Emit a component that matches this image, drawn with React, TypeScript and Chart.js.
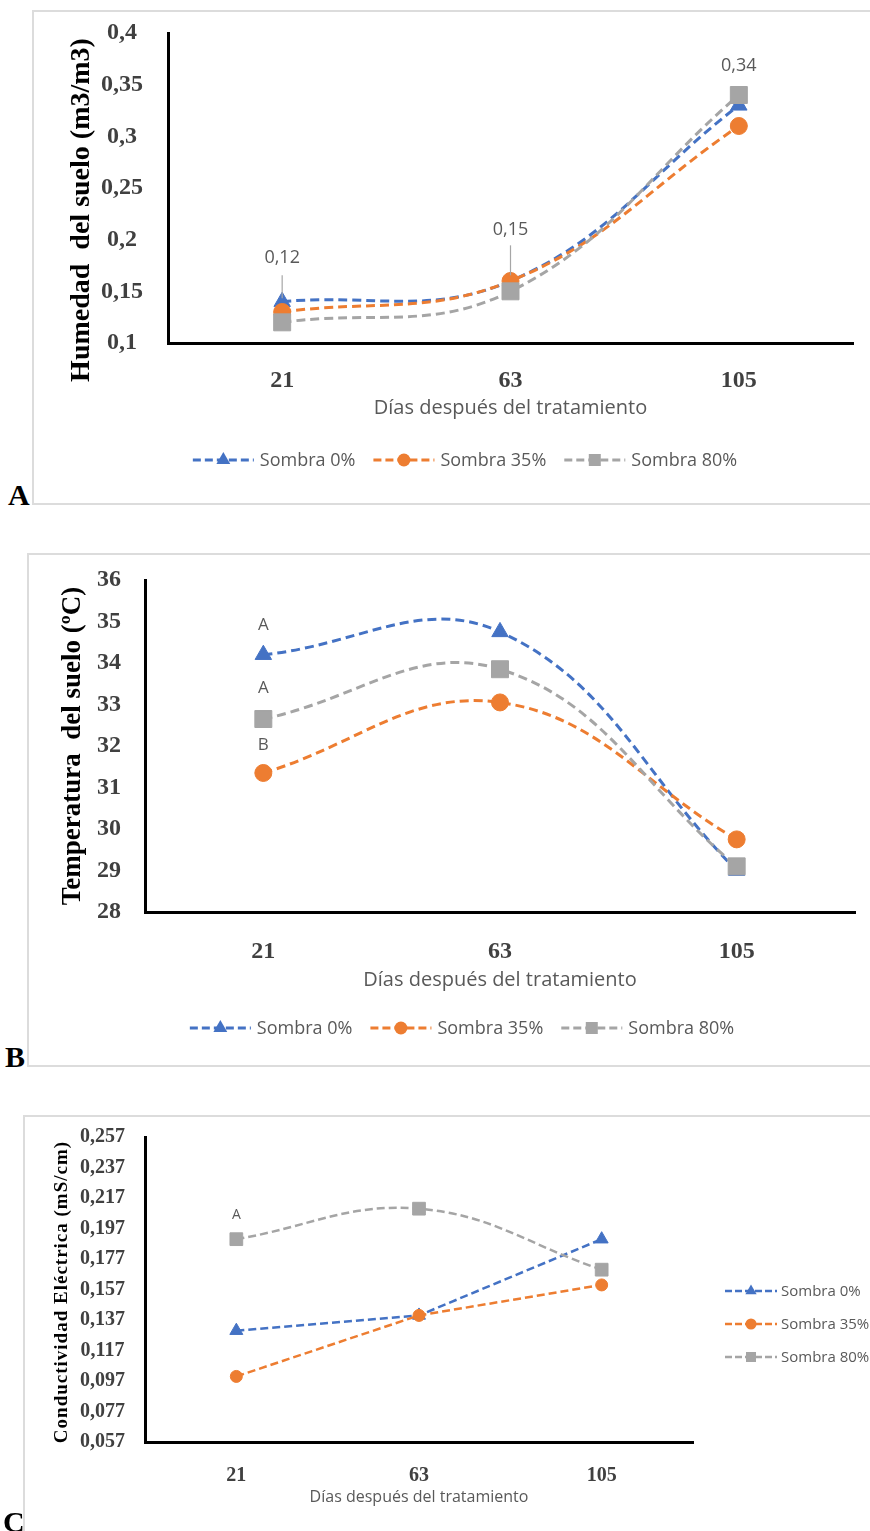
import React, { useEffect, useRef } from "react";
import { Chart, registerables } from "chart.js";

Chart.register(...registerables);

const SERIF = "'Liberation Serif', 'Times New Roman', serif";
const SANS = "'Open Sans', Lato, sans-serif";

// ---------- shared ----------
const days = ["21", "63", "105"];
const seriesNames = ["Sombra 0%", "Sombra 35%", "Sombra 80%"];
const seriesColors = ["#4472C4", "#ED7D31", "#A5A5A5"];
const seriesMarkers = ["triangle", "circle", "rect"];
const xTitleText = "Días después del tratamiento";

// ---------- Panel A: Humedad del suelo ----------
const humedadSombra0 = [0.14, 0.16, 0.33];
const humedadSombra35 = [0.13, 0.16, 0.31];
const humedadSombra80 = [0.12, 0.15, 0.34];
const humedadTicks = [0.1, 0.15, 0.2, 0.25, 0.3, 0.35, 0.4];
const humedadTickLabels = ["0,1", "0,15", "0,2", "0,25", "0,3", "0,35", "0,4"];
const humedadPointLabels80 = ["0,12", "0,15", "0,34"];

// ---------- Panel B: Temperatura del suelo ----------
const tempSombra0 = [34.2, 34.75, 29.0];
const tempSombra35 = [31.35, 33.05, 29.75];
const tempSombra80 = [32.65, 33.85, 29.1];
const tempTicks = [28, 29, 30, 31, 32, 33, 34, 35, 36];
const tempTickLabels = ["28", "29", "30", "31", "32", "33", "34", "35", "36"];
const tempLetters0 = ["A", "", ""];
const tempLetters35 = ["B", "", ""];
const tempLetters80 = ["A", "", ""];

// ---------- Panel C: Conductividad eléctrica ----------
const ceSombra0 = [0.13, 0.14, 0.19];
const ceSombra35 = [0.1, 0.14, 0.16];
const ceSombra80 = [0.19, 0.21, 0.17];
const ceTicks = [0.057, 0.077, 0.097, 0.117, 0.137, 0.157, 0.177, 0.197, 0.217, 0.237, 0.257];
const ceTickLabels = ["0,057", "0,077", "0,097", "0,117", "0,137", "0,157", "0,177", "0,197", "0,217", "0,237", "0,257"];
const ceLetters80 = ["A", "", ""];

function drawMarker(ctx: CanvasRenderingContext2D, style: string, x: number, y: number, r: number, color: string) {
  ctx.fillStyle = color;
  ctx.beginPath();
  if (style === "triangle") {
    ctx.moveTo(x, y - r);
    ctx.lineTo(x + r * 0.866, y + r * 0.5);
    ctx.lineTo(x - r * 0.866, y + r * 0.5);
    ctx.closePath();
  } else if (style === "circle") {
    ctx.arc(x, y, r, 0, Math.PI * 2);
  } else {
    ctx.rect(x - r, y - r, 2 * r, 2 * r);
  }
  ctx.fill();
}

const yTitlePlugin = (t: any) => ({
  id: "yTitle",
  afterDraw(chart: any) {
    const ctx = chart.ctx as CanvasRenderingContext2D;
    ctx.save();
    ctx.font = `bold ${t.size}px ${SERIF}`;
    ctx.fillStyle = "#000";
    (ctx as any).letterSpacing = t.spacing || "0px";
    ctx.translate(t.x, t.y);
    ctx.rotate(-Math.PI / 2);
    ctx.textAlign = "center";
    ctx.textBaseline = "middle";
    ctx.fillText(t.text, 0, 0);
    (ctx as any).letterSpacing = "0px";
    ctx.restore();
  },
});

const legendPlugin = (L: any) => ({
  id: "dashLegend",
  afterDraw(chart: any) {
    const ctx = chart.ctx as CanvasRenderingContext2D;
    const dss = chart.data.datasets;
    ctx.save();
    ctx.font = `${L.size}px ${SANS}`;
    ctx.textBaseline = "middle";
    ctx.textAlign = "left";
    const widths = dss.map((d: any) => ctx.measureText(d.label).width);
    const itemW = widths.map((w: number) => L.lineLen + L.gap + w);
    let x: number;
    let y: number;
    if (L.mode === "row") {
      const total = itemW.reduce((a: number, b: number) => a + b, 0) + L.itemGap * (dss.length - 1);
      x = L.cx - total / 2;
      y = L.y;
    } else {
      x = L.x;
      y = L.y;
    }
    dss.forEach((d: any, i: number) => {
      ctx.strokeStyle = d.borderColor;
      ctx.lineWidth = L.lineWidth;
      ctx.setLineDash(L.dash);
      ctx.beginPath();
      ctx.moveTo(x, y);
      ctx.lineTo(x + L.lineLen, y);
      ctx.stroke();
      ctx.setLineDash([]);
      drawMarker(ctx, d.pointStyle, x + L.lineLen / 2, y, L.markerR[i], d.borderColor);
      ctx.fillStyle = "#595959";
      ctx.fillText(d.label, x + L.lineLen + L.gap, y + 1);
      if (L.mode === "row") x += itemW[i] + L.itemGap;
      else y += L.rowGap;
    });
    ctx.restore();
  },
});

const pointTextPlugin = (items: any[], size: number) => ({
  id: "pointText",
  afterDatasetsDraw(chart: any) {
    const ctx = chart.ctx as CanvasRenderingContext2D;
    ctx.save();
    ctx.font = `${size}px ${SANS}`;
    ctx.textAlign = "center";
    ctx.textBaseline = "middle";
    items.forEach((it) => {
      const meta = chart.getDatasetMeta(it.dataset);
      meta.data.forEach((pt: any, i: number) => {
        const txt = it.texts[i];
        if (!txt) return;
        const ty = pt.y - it.offsets[i];
        ctx.fillStyle = "#595959";
        ctx.fillText(txt, pt.x, ty);
        const ld = it.leaders && it.leaders[i];
        if (ld) {
          ctx.strokeStyle = "#A6A6A6";
          ctx.lineWidth = 1.2;
          ctx.beginPath();
          ctx.moveTo(pt.x, ty + ld[0]);
          ctx.lineTo(pt.x, pt.y - ld[1]);
          ctx.stroke();
        }
      });
    });
    ctx.restore();
  },
});

function makeConfig(s: any) {
  const datasets = s.data.map((d: number[], i: number) => ({
    label: seriesNames[i],
    data: d,
    borderColor: seriesColors[i],
    backgroundColor: seriesColors[i],
    pointBackgroundColor: seriesColors[i],
    pointBorderColor: seriesColors[i],
    pointBorderWidth: 1,
    pointStyle: seriesMarkers[i],
    pointRadius: s.radii[i],
    pointHoverRadius: s.radii[i],
    borderWidth: s.lineWidth,
    borderDash: s.dash,
    tension: s.tension[i],
    fill: false,
    order: 2 - i,
  }));
  return {
    type: "line",
    data: { labels: days, datasets },
    options: {
      animation: false,
      responsive: false,
      devicePixelRatio: 1,
      events: [],
      layout: { padding: s.padding },
      plugins: {
        legend: { display: false },
        tooltip: { enabled: false },
        title: { display: false },
      },
      scales: {
        x: {
          type: "category",
          offset: true,
          grid: { display: false },
          border: { display: true, color: "#000", width: 3 },
          ticks: {
            font: { family: SERIF, size: s.xTickSize, weight: "bold" },
            color: "#404040",
            padding: s.xTickPad,
            maxRotation: 0,
          },
          title: {
            display: true,
            text: xTitleText,
            font: { family: SANS, size: s.xTitleSize },
            color: "#595959",
            padding: { top: 0, bottom: s.xTitlePad },
          },
          afterFit: (sc: any) => {
            sc.height = s.xHeight;
            sc.paddingLeft = 0;
            sc.paddingRight = 0;
          },
        },
        y: {
          type: "linear",
          min: s.yMin,
          max: s.yMax,
          afterBuildTicks: (sc: any) => {
            sc.ticks = s.yTicks.map((v: number) => ({ value: v }));
          },
          ticks: {
            autoSkip: false,
            callback: (_v: any, i: number) => s.yTickLabels[i],
            font: { family: SERIF, size: s.yTickSize, weight: "bold" },
            color: "#404040",
            padding: s.yTickPad,
            crossAlign: "center",
          },
          grid: { display: false },
          border: { display: true, color: "#000", width: 3 },
          afterFit: (sc: any) => {
            sc.width = s.yWidth;
            sc.paddingTop = 0;
            sc.paddingBottom = 0;
          },
        },
      },
    },
    plugins: [yTitlePlugin(s.yTitle), legendPlugin(s.legend), pointTextPlugin(s.labels, s.labelSize)],
  };
}

const specA = {
  data: [humedadSombra0, humedadSombra35, humedadSombra80],
  tension: [0.4, 0.4, 0.4],
  radii: [9.5, 8.5, 12],
  lineWidth: 3,
  dash: [9, 5],
  yMin: 0.1,
  yMax: 0.4,
  yTicks: humedadTicks,
  yTickLabels: humedadTickLabels,
  yTickSize: 24,
  yTickPad: 17,
  yWidth: 136,
  xHeight: 90,
  xTickSize: 24,
  xTickPad: 15,
  xTitleSize: 20,
  xTitlePad: 13,
  padding: { left: 0, top: 23, right: 17, bottom: 72 },
  yTitle: { text: "Humedad  del suelo (m3/m3)", size: 28, x: 50, y: 200 },
  legend: { mode: "row", cx: 433, y: 450, lineLen: 61, gap: 6, itemGap: 18, size: 18, lineWidth: 3, dash: [8, 4], markerR: [8, 6.5, 6] },
  labels: [
    { dataset: 2, texts: humedadPointLabels80, offsets: [64, 61, 29], leaders: [[17, 24], [15, 16], null] },
  ],
  labelSize: 18,
};

const specB = {
  data: [tempSombra0, tempSombra35, tempSombra80],
  tension: [0.4, 0.4, 0.4],
  radii: [9.5, 8.5, 12],
  lineWidth: 3,
  dash: [9, 5],
  yMin: 28,
  yMax: 36,
  yTicks: tempTicks,
  yTickLabels: tempTickLabels,
  yTickSize: 24,
  yTickPad: 16,
  yWidth: 118,
  xHeight: 90,
  xTickSize: 24,
  xTickPad: 17,
  xTitleSize: 20,
  xTitlePad: 10,
  padding: { left: 0, top: 27, right: 15, bottom: 65 },
  yTitle: { text: "Temperatura  del suelo (ºC)", size: 27, x: 46, y: 193 },
  legend: { mode: "row", cx: 435, y: 475, lineLen: 61, gap: 6, itemGap: 18, size: 18, lineWidth: 3, dash: [8, 4], markerR: [8, 6.5, 6] },
  labels: [
    { dataset: 0, texts: tempLetters0, offsets: [30, 0, 0] },
    { dataset: 1, texts: tempLetters35, offsets: [28, 0, 0] },
    { dataset: 2, texts: tempLetters80, offsets: [31, 0, 0] },
  ],
  labelSize: 17,
};

const specC = {
  data: [ceSombra0, ceSombra35, ceSombra80],
  tension: [0, 0, 0.4],
  radii: [7.5, 6, 9],
  lineWidth: 2.5,
  dash: [8, 4],
  yMin: 0.057,
  yMax: 0.257,
  yTicks: ceTicks,
  yTickLabels: ceTickLabels,
  yTickSize: 20,
  yTickPad: 12,
  yWidth: 122,
  xHeight: 70,
  xTickSize: 20,
  xTickPad: 14,
  xTitleSize: 16,
  xTitlePad: 5,
  padding: { left: 0, top: 22, right: 177, bottom: 19 },
  yTitle: { text: "Conductividad Eléctrica (mS/cm)", size: 19, x: 39, y: 177, spacing: "1px" },
  legend: { mode: "column", x: 702, y: 176, rowGap: 33, lineLen: 52, gap: 4, size: 15, lineWidth: 2.5, dash: [7, 3], markerR: [6.5, 5.5, 5] },
  labels: [{ dataset: 2, texts: ceLetters80, offsets: [24, 0, 0] }],
  labelSize: 14,
};

function ChartCanvas({ spec, left, top, width, height }: any) {
  const ref = useRef<HTMLCanvasElement>(null);
  useEffect(() => {
    const chart = new Chart(ref.current as HTMLCanvasElement, makeConfig(spec) as any);
    return () => chart.destroy();
  }, []);
  return (
    <canvas
      ref={ref}
      width={width}
      height={height}
      style={{ position: "absolute", left, top, width, height }}
    />
  );
}

function Frame({ left, top, height }: any) {
  return (
    <div
      style={{
        position: "absolute",
        left,
        top,
        width: 880 - left,
        height,
        border: "2px solid #DCDCDC",
        boxSizing: "border-box",
      }}
    />
  );
}

function Letter({ text, left, baseline }: any) {
  return (
    <div
      style={{
        position: "absolute",
        left,
        top: baseline - 25,
        fontFamily: SERIF,
        fontWeight: "bold",
        fontSize: 30,
        lineHeight: "30px",
        color: "#000",
      }}
    >
      {text}
    </div>
  );
}

export default function App() {
  return (
    <div
      style={{
        position: "absolute",
        left: 0,
        top: 0,
        width: 870,
        height: 1531,
        overflow: "hidden",
        background: "#fff",
      }}
    >
      <Frame left={32} top={10} height={495} />
      <ChartCanvas spec={specA} left={32} top={10} width={838} height={495} />
      <Letter text="A" left={8} baseline={505} />

      <Frame left={27} top={553} height={514} />
      <ChartCanvas spec={specB} left={27} top={553} width={843} height={514} />
      <Letter text="B" left={5} baseline={1067} />

      <Frame left={23} top={1115} height={440} />
      <ChartCanvas spec={specC} left={23} top={1115} width={847} height={416} />
      <Letter text="C" left={3} baseline={1532} />
    </div>
  );
}
